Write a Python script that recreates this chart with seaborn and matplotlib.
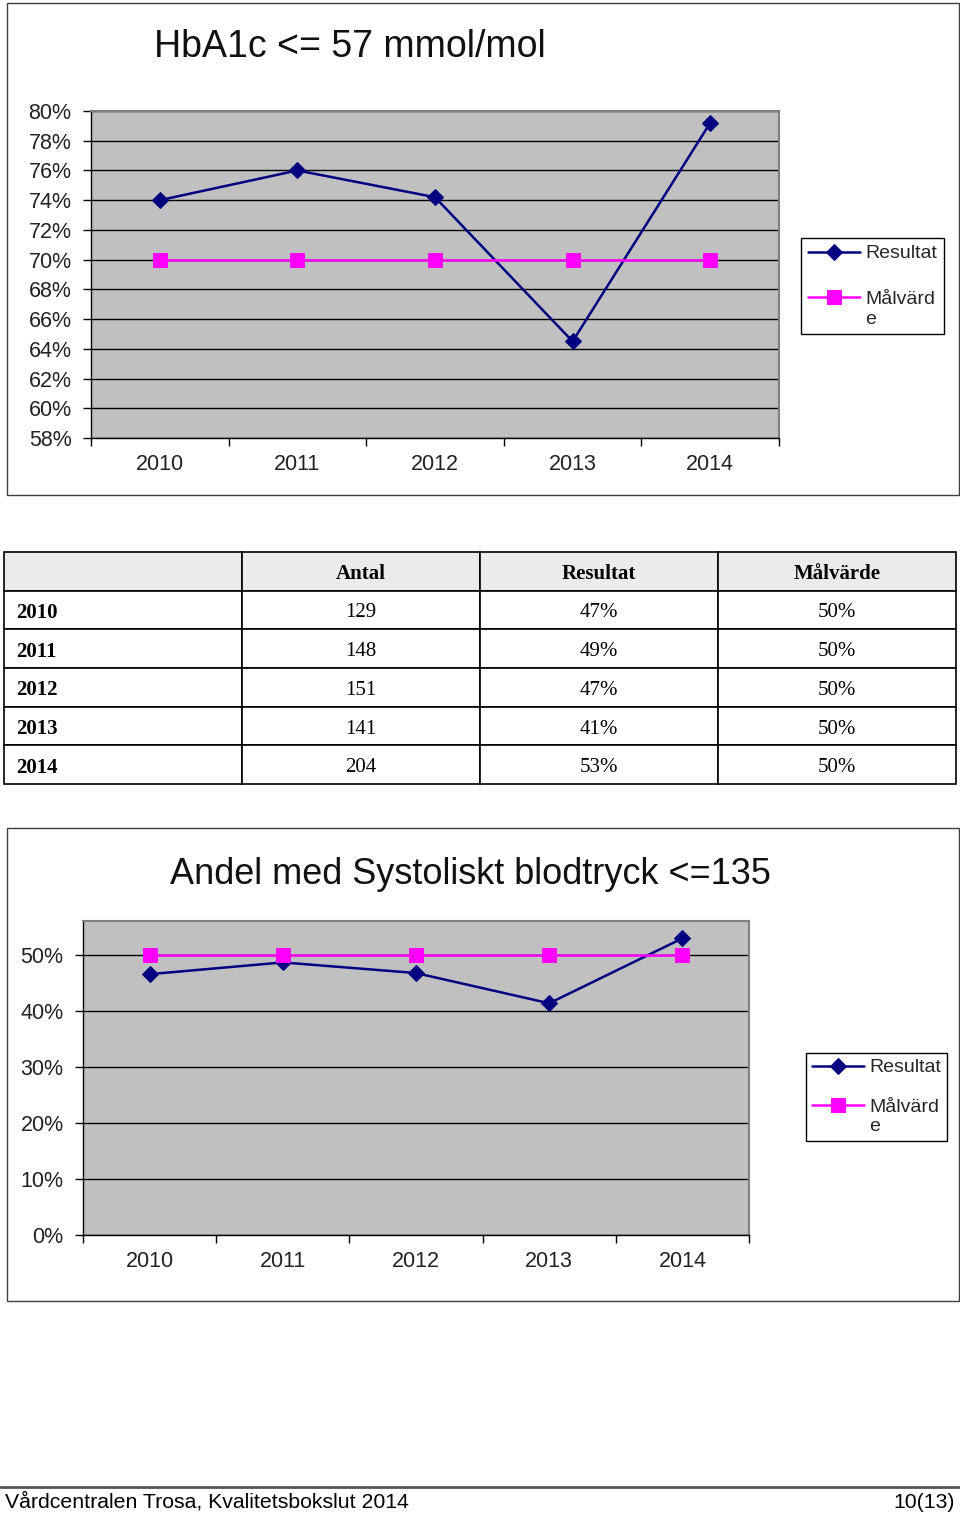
import numpy as np
import pandas as pd
import matplotlib
matplotlib.use('Agg')
import matplotlib.pyplot as plt
import seaborn as sns
from matplotlib.patches import Rectangle
from matplotlib.lines import Line2D
from matplotlib.ticker import PercentFormatter, FixedLocator
from matplotlib.legend_handler import HandlerLine2D
from matplotlib.transforms import Affine2D

# ---------------- data ----------------
years = ['2010', '2011', '2012', '2013', '2014']
hba1c_result = [0.740, 0.760, 0.742, 0.645, 0.792]
hba1c_target = [0.70, 0.70, 0.70, 0.70, 0.70]
hba1c_yticks = [0.58, 0.60, 0.62, 0.64, 0.66, 0.68, 0.70, 0.72, 0.74, 0.76, 0.78, 0.80]
bp_result = [0.466, 0.487, 0.468, 0.414, 0.530]
bp_target = [0.50, 0.50, 0.50, 0.50, 0.50]
bp_yticks = [0.0, 0.1, 0.2, 0.3, 0.4, 0.5]
table_header = ['', 'Antal', 'Resultat', 'Målvärde']
table_antal = ['129', '148', '151', '141', '204']
table_resultat = ['47%', '49%', '47%', '41%', '53%']
table_malvarde = ['50%', '50%', '50%', '50%', '50%']

W, H = 960, 1514
sns.set_theme(style='white')
plt.rcParams['font.family'] = ['Liberation Sans', 'DejaVu Sans']

fig = plt.figure(figsize=(W / 100, H / 100), dpi=100)
fig.patch.set_facecolor('white')


def rect(x0, y0, x1, y1):
    return [x0 / W, 1 - y1 / H, (x1 - x0) / W, (y1 - y0) / H]


def box(x0, y0, x1, y1, ec='#404040', lw=1.0):
    fig.patches.append(Rectangle((x0 / W, 1 - y1 / H), (x1 - x0) / W, (y1 - y0) / H,
                                 transform=fig.transFigure, fill=False, ec=ec, lw=lw))


class HandlerFirstLine(HandlerLine2D):
    """Align the legend handle with the first line of a two-line label."""
    def __init__(self, dy=0.0, **kw):
        super().__init__(**kw)
        self.dy = dy

    def create_artists(self, legend, orig_handle, xdescent, ydescent, width, height, fontsize, trans):
        arts = super().create_artists(legend, orig_handle, xdescent, ydescent, width, height,
                                      fontsize, trans)
        for a in arts:
            a.set_ydata(np.asarray(a.get_ydata(), dtype=float) + self.dy)
        return arts


def chart(frame, plot, title, title_xy, title_size, res, tgt, yticks, ylim, leg_xy,
          leg_spacing, leg_pad):
    box(*frame)
    ax = fig.add_axes(rect(*plot))
    ax.set_facecolor('#c0c0c0')
    df = pd.DataFrame({'x': np.arange(len(years)), 'Resultat': res, 'Malvarde': tgt})
    sns.lineplot(data=df, x='x', y='Resultat', ax=ax, color='#000080', marker='D',
                 markersize=8.5, markeredgecolor='#000080', linewidth=1.8, label='Resultat', zorder=3)
    sns.lineplot(data=df, x='x', y='Malvarde', ax=ax, color='#ff00ff', marker='s',
                 markersize=10.5, markeredgecolor='#ff00ff', linewidth=1.8, label='Målvärd\ne', zorder=3)
    ax.set_xlim(-0.5, len(years) - 0.5)
    ax.set_ylim(*ylim)
    ax.set_xlabel('')
    ax.set_ylabel('')
    ax.yaxis.set_major_locator(FixedLocator(yticks))
    ax.yaxis.set_major_formatter(PercentFormatter(1.0, decimals=0))
    ax.yaxis.grid(True, color='black', linewidth=1.0)
    ax.set_axisbelow(True)
    ax.set_xticks(np.arange(-0.5, len(years), 1.0))
    ax.set_xticklabels([])
    ax.set_xticks(np.arange(len(years)), minor=True)
    ax.set_xticklabels(years, minor=True)
    ax.tick_params(axis='both', which='major', length=6, width=1, color='black',
                   direction='out', labelsize=15.5, labelcolor='#222222')
    ax.tick_params(axis='y', which='major', pad=8, left=True)
    ax.tick_params(axis='x', which='major', bottom=True)
    ax.tick_params(axis='x', which='minor', length=0, pad=11.5, labelsize=15.5, labelcolor='#222222')
    for s in ['left', 'bottom']:
        ax.spines[s].set_color('black')
        ax.spines[s].set_linewidth(1.0)
    for s in ['top', 'right']:
        ax.spines[s].set_color('#808080')
        ax.spines[s].set_linewidth(1.5)
    fig.text(title_xy[0] / W, 1 - title_xy[1] / H, title, ha='center', va='center',
             fontsize=title_size, color='#111111')
    handles, labels = ax.get_legend_handles_labels()
    leg = ax.legend(handles, labels, loc='upper left',
                    bbox_to_anchor=(leg_xy[0] / W, 1 - leg_xy[1] / H),
                    bbox_transform=fig.transFigure, frameon=True, fancybox=False,
                    edgecolor='black', framealpha=1, fontsize=14, handlelength=2.7,
                    handletextpad=0.25, borderpad=leg_pad, labelspacing=leg_spacing,
                    borderaxespad=0,
                    handler_map={handles[1]: HandlerFirstLine(dy=0.6 * 14)})
    leg.get_frame().set_linewidth(1.0)
    return ax


chart((7, 3, 959, 495), (91, 111, 779, 438), 'HbA1c <= 57 mmol/mol', (350, 47), 27,
      hba1c_result, hba1c_target, hba1c_yticks, (0.58, 0.80), (801, 238), 1.47, 0.35)

chart((7, 828, 959, 1301), (83, 921, 749, 1235), 'Andel med Systoliskt blodtryck <=135', (470, 875), 26,
      bp_result, bp_target, bp_yticks, (0.0, 0.561), (806, 1053), 1.15, 0.3)

# ---------------- table ----------------
tax = fig.add_axes(rect(4, 552, 956, 784))
tax.axis('off')
cell_text = [table_header] + [[y, a, r, m] for y, a, r, m in
                              zip(years, table_antal, table_resultat, table_malvarde)]
tbl = tax.table(cellText=cell_text, bbox=[0, 0, 1, 1], cellLoc='center')
tbl.auto_set_font_size(False)
for (r, c), cell in tbl.get_celld().items():
    cell.set_edgecolor('black')
    cell.set_linewidth(1.2)
    txt = cell.get_text()
    txt.set_fontfamily(['Liberation Serif', 'DejaVu Serif'])
    txt.set_fontsize(15)
    txt.set_color('black')
    txt.set_transform(Affine2D().translate(0, -3))
    if r == 0:
        cell.set_facecolor('#ebebeb')
        txt.set_fontweight('bold')
    else:
        cell.set_facecolor('white')
    if c == 0:
        txt.set_fontweight('bold')
        cell.PAD = 0.05
        cell._loc = 'left'
        txt.set_ha('left')

# ---------------- footer ----------------
fig.add_artist(Line2D([0, 1], [1 - 1487 / H, 1 - 1487 / H], transform=fig.transFigure,
                      color='#555555', linewidth=2))
fig.text(5 / W, 1 - 1502 / H, 'Vårdcentralen Trosa, Kvalitetsbokslut 2014', ha='left', va='center',
         fontsize=15.3, color='black')
fig.text(955 / W, 1 - 1502 / H, '10(13)', ha='right', va='center',
         fontsize=15.3, color='black')

fig.savefig('out.png', dpi=100)
